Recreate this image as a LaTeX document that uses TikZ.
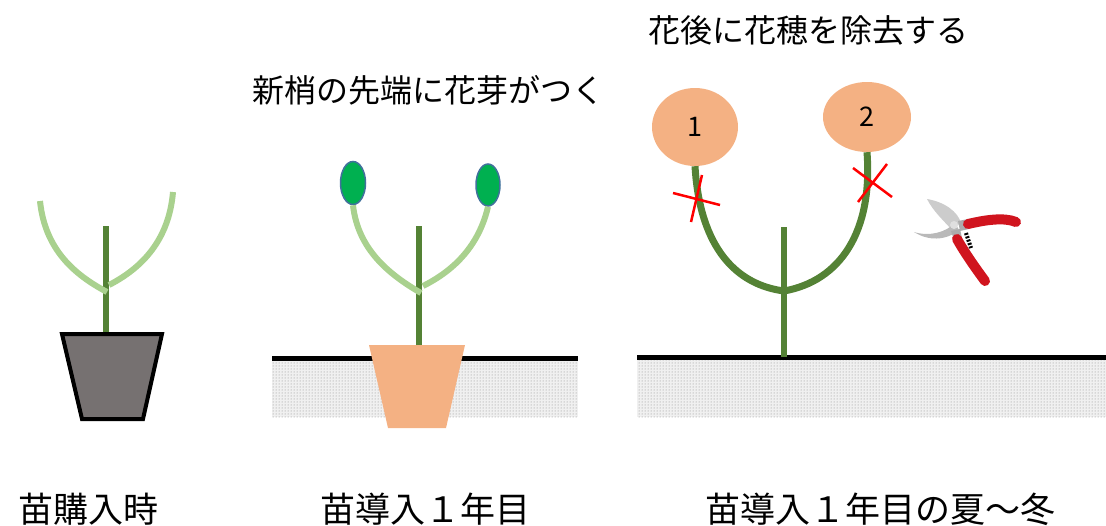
\documentclass[tikz,border=0pt]{standalone}
\usepackage{fontspec}
\newfontfamily\jpfont{Noto Sans CJK JP}
\usetikzlibrary{shapes.geometric,patterns,positioning}
\definecolor{stemgreen}{HTML}{548235}
\definecolor{shootgreen}{HTML}{A9D18E}
\definecolor{budgreen}{HTML}{00B050}
\definecolor{budline}{HTML}{41719C}
\definecolor{peach}{HTML}{F4B183}
\definecolor{potgray}{HTML}{767171}
\definecolor{handlered}{HTML}{D0141E}
\tikzset{%
	stem/.style     = {draw=stemgreen, line width=6pt}, % main stem
	shoot/.style    = {draw=shootgreen, line width=6pt}, % new shoot
	oldshoot/.style = {draw=stemgreen, line width=7pt}, % shoot after flowering
	bud/.style      = {draw=budline, line width=1.5pt, fill=budgreen, ellipse, minimum width=25pt, minimum height=43pt, inner sep=0},
	flower/.style   = {fill=peach, ellipse, inner sep=0, font=\jpfont\fontsize{27}{27}\selectfont},
	cutmark/.style  = {draw=red, line width=2.5pt},
	ground/.style   = {draw=black, line width=5pt},
	soil/.style     = {pattern=dots, pattern color=gray!95},
	caption/.style  = {anchor=base west, inner sep=0, font=\jpfont\fontsize{35}{40}\selectfont},
	note/.style     = {anchor=base west, inner sep=0, font=\jpfont\fontsize{32}{36}\selectfont},
}

\begin{document}
\begin{tikzpicture}[x=1pt,y=-1pt]
	\useasboundingbox (0,0) rectangle (1106,525);

	% first plant, in its bought pot
	\draw[line width=4pt, fill=potgray, line join=miter] (62,334) -- (162,334) -- (143,419) -- (82,419) -- cycle;
	\coordinate (base1) at (106,332);
	\coordinate (top1) at (106,226);
	\coordinate (fork1l) at (107,292);
	\coordinate (fork1r) at (109,285);
	\draw[stem] (base1) -- (top1);
	\draw[shoot] (40,201) .. controls (45,250) and (75,275) .. (fork1l);
	\draw[shoot] (173,192) .. controls (169,240) and (142,268) .. (fork1r);

	% second plant, pot sunk in the ground
	\fill[gray!12] (272,360) rectangle (578,417);
	\fill[soil] (272,360) rectangle (578,417);
	\draw[ground] (272,358) -- (578,358);
	\fill[peach] (369,345) -- (465,345) -- (446,428) -- (388,428) -- cycle;
	\coordinate (base2) at (419,345);
	\coordinate (top2) at (419,226);
	\coordinate (fork2l) at (421,293);
	\coordinate (fork2r) at (423,286);
	\node[bud] (budl) at (353,183) {};
	\node[bud, minimum width=24pt, minimum height=42pt] (budr) at (488,185) {};
	\draw[stem] (base2) -- (top2);
	\draw[shoot] (budl.south) .. controls (358,250) and (390,275) .. (fork2l);
	\draw[shoot] (budr.south) .. controls (479,245) and (455,270) .. (fork2r);

	% third plant, planted out, spent flowers cut off
	\fill[gray!12] (637,360) rectangle (1106,417);
	\fill[soil] (637,360) rectangle (1106,417);
	\draw[ground] (637,357) -- (1106,357);
	\coordinate (base3) at (784,357);
	\coordinate (top3) at (784,227);
	\coordinate (fork3) at (784,291);
	\node[flower, minimum width=86pt, minimum height=78pt] (fl1) at (695,127) {\raisebox{-5pt}{1}};
	\node[flower, minimum width=88pt, minimum height=70pt] (fl2) at (867,117) {\raisebox{-3pt}{2}};
	\draw[stem, line width=6.5pt] (base3) -- (top3);
	\draw[oldshoot] (fl1.south) .. controls (700,250) and (738,285) .. (fork3);
	\draw[oldshoot] (fl2.south) .. controls (873,232) and (840,281) .. (fork3);

	% cut marks
	\draw[cutmark] (673,193) -- (720,205);
	\draw[cutmark] (702,175) -- (691,222);
	\draw[cutmark] (853,168) -- (892,197);
	\draw[cutmark] (887,164) -- (858,202);

	% pruning shears
	\fill[gray!40] (927,199) .. controls (945,202) and (958,212) .. (961,223) -- (951,229) .. controls (943,220) and (933,211) .. cycle;
	\fill[gray!55] (914,232) .. controls (930,237) and (946,232) .. (955,223) -- (959,230) .. controls (946,241) and (928,241) .. cycle;
	\fill[gray!65] (958,221) -- (968,219) -- (969,229) -- (960,231) -- cycle;
	\fill[gray!65] (951,231) -- (960,229) -- (962,238) -- (954,240) -- cycle;
	\fill[gray!25] (954,225) circle (4);
	\draw[black, line width=4pt, dash pattern=on 2pt off 1.5pt] (966,233) -- (971,248);
	\draw[handlered, line width=10pt, line cap=round] (968,224) .. controls (985,220) and (1004,217) .. (1016,222);
	\draw[handlered, line width=10pt, line cap=round] (957,239) .. controls (966,255) and (977,270) .. (985,281);

	% texts
	\node[note] (tbud) at (252,102) {新梢の先端に花芽がつく};
	\node[note] (tcut) at (648,42) {花後に花穂を除去する};
	\node[caption] (c1) at (18,522) {苗購入時};
	\node[caption] (c2) at (320,522) {苗導入１年目};
	\node[caption] (c3) at (705,522) {苗導入１年目の夏～冬};
\end{tikzpicture}
\end{document}
